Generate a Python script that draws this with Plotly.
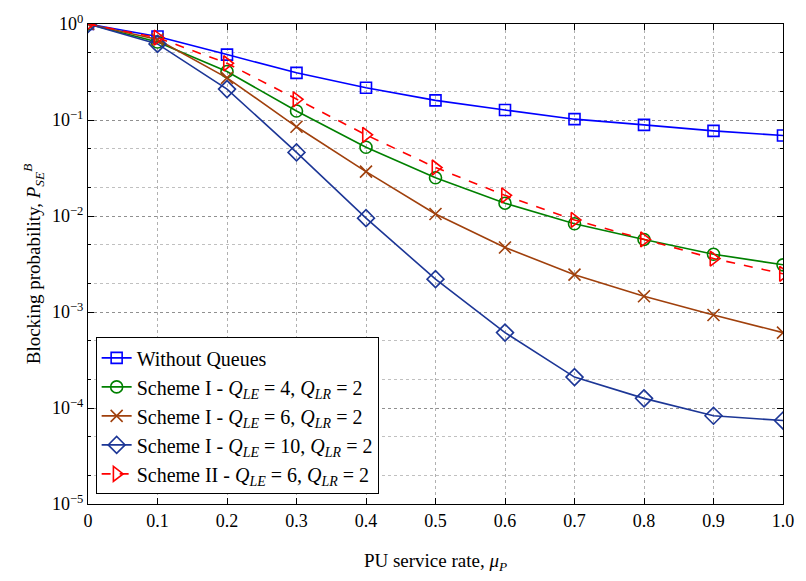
import plotly.graph_objects as go

mu = [0, 0.1, 0.2, 0.3, 0.4, 0.5, 0.6, 0.7, 0.8, 0.9, 1.0]
x_ticktext = ["0", "0.1", "0.2", "0.3", "0.4", "0.5", "0.6", "0.7", "0.8", "0.9", "1.0"]

without_queues = [1.0, 0.74, 0.48, 0.31, 0.217, 0.16, 0.127, 0.102, 0.089, 0.077, 0.069]
scheme1_q4 = [1.0, 0.65, 0.32, 0.124, 0.052, 0.025, 0.0136, 0.0083, 0.0057, 0.0040, 0.0031]
scheme1_q6 = [1.0, 0.69, 0.275, 0.085, 0.029, 0.0105, 0.0047, 0.00245, 0.00146, 0.00093, 0.00061]
scheme1_q10 = [1.0, 0.62, 0.21, 0.046, 0.0095, 0.0022, 0.00061, 0.00021, 0.000126, 0.000083, 0.000074]
scheme2_q6 = [1.0, 0.72, 0.39, 0.164, 0.070, 0.032, 0.0164, 0.0091, 0.0057, 0.0036, 0.0025]

names = [
    "Without Queues",
    "Scheme I - <i>Q</i><sub><i>LE</i></sub> = 4, <i>Q</i><sub><i>LR</i></sub> = 2",
    "Scheme I - <i>Q</i><sub><i>LE</i></sub> = 6, <i>Q</i><sub><i>LR</i></sub> = 2",
    "Scheme I - <i>Q</i><sub><i>LE</i></sub> = 10, <i>Q</i><sub><i>LR</i></sub> = 2",
    "Scheme II - <i>Q</i><sub><i>LE</i></sub> = 6, <i>Q</i><sub><i>LR</i></sub> = 2",
]
series = [without_queues, scheme1_q4, scheme1_q6, scheme1_q10, scheme2_q6]
colors = ["#0000ff", "#008000", "#a0400c", "#1c3696", "#ff0000"]
symbols = ["square-open", "circle-open", "x-thin-open", "diamond-open", "triangle-right-open"]
dashes = ["solid", "solid", "solid", "solid", "dash"]
sizes = [11, 12, 12, 13, 13]

fig = go.Figure()
for name, ys, c, s, d, sz in zip(names, series, colors, symbols, dashes, sizes):
    fig.add_trace(go.Scatter(
        x=mu, y=ys, name=name, mode="lines+markers",
        line=dict(color=c, width=1.6, dash=d),
        marker=dict(symbol=s, size=sz, color=c, line=dict(color=c, width=1.6)),
    ))

font = "Liberation Serif, DejaVu Serif, serif"
ytv = [1, 0.1, 0.01, 0.001, 0.0001, 0.00001]
ytt = ["10<sup>0</sup>", "10<sup>−1</sup>", "10<sup>−2</sup>", "10<sup>−3</sup>", "10<sup>−4</sup>", "10<sup>−5</sup>"]

fig.update_layout(
    width=806, height=581,
    margin=dict(l=88, r=15, t=17, b=77),
    plot_bgcolor="white", paper_bgcolor="white",
    font=dict(family=font, size=18, color="black"),
    showlegend=True,
    legend=dict(
        x=0.011, y=0.02, xanchor="left", yanchor="bottom",
        bgcolor="white", bordercolor="black", borderwidth=1,
        font=dict(family=font, size=20), tracegroupgap=0,
    ),
    xaxis=dict(
        range=[0, 1.0], tickvals=mu, ticktext=x_ticktext,
        showline=True, linecolor="black", linewidth=1, mirror="ticks",
        ticks="inside", ticklen=6, tickcolor="black",
        showgrid=True, gridcolor="#b0b0b0", griddash="dot", gridwidth=1,
        zeroline=False, tickfont=dict(size=18),
        title=dict(text="PU service rate, <i>μ</i><sub><i>P</i></sub>", standoff=24, font=dict(size=19)),
    ),
    yaxis=dict(
        type="log", range=[-5, 0], tickvals=ytv, ticktext=ytt,
        showline=True, linecolor="black", linewidth=1, mirror="ticks",
        ticks="inside", ticklen=6, tickcolor="black",
        showgrid=True, gridcolor="#909090", griddash="dot", gridwidth=1,
        zeroline=False, tickfont=dict(size=18),
        minor=dict(ticks="inside", ticklen=3, tickcolor="black", showgrid=True,
                   gridcolor="#c0c0c0", griddash="dot", gridwidth=1),
        title=dict(text="Blocking probability, <i>P</i><sub><i>SE</i></sub><sup><i>B</i></sup>", standoff=6, font=dict(size=19)),
    ),
)

fig.write_html("out.html")
